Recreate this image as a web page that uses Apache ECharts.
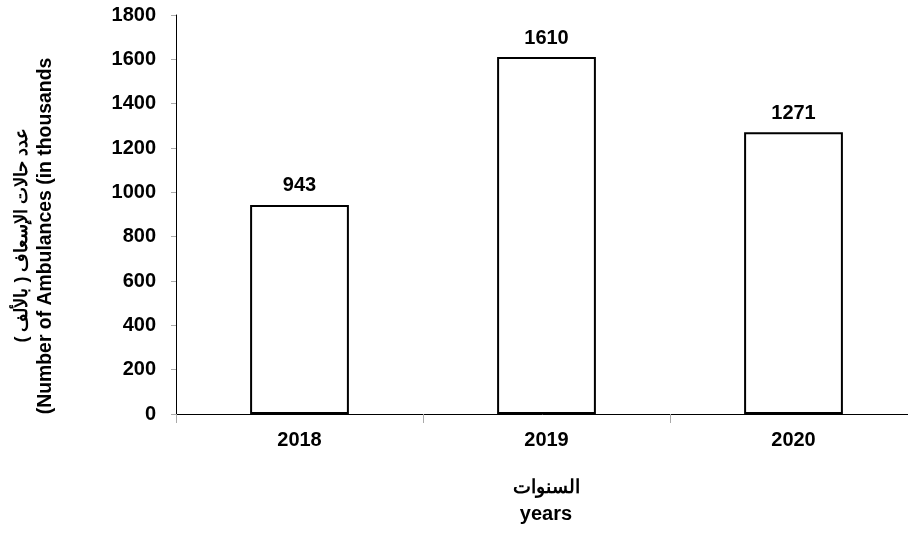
<!DOCTYPE html>
<html><head><meta charset="utf-8">
<script src="https://cdn.jsdelivr.net/npm/echarts@6/dist/echarts.min.js"></script>
<style>html,body{margin:0;padding:0;background:#fff}#c{width:908px;height:533px}</style>
</head><body><div id="c"></div>
<script>
const categories = ['2018', '2019', '2020'];
const values = [943, 1610, 1271];
const yTicks = [0, 200, 400, 600, 800, 1000, 1200, 1400, 1600, 1800];
const yNameAr = 'عدد حالات الإسعاف ( بالألف )';
const yNameEn = '(Number of Ambulances (in thousands';
const xNameAr = 'السنوات';
const xNameEn = 'years';

const font = '"Liberation Sans", Arial, sans-serif';
const chart = echarts.init(document.getElementById('c'), null, {renderer: 'canvas'});
const nameStyle = (t, size) => ({text: t, fontFamily: font, fontWeight: 'bold', fontSize: size, fill: '#000', align: 'center', verticalAlign: 'middle'});
chart.setOption({
  animation: false,
  grid: {left: 176, right: -9, top: 15, bottom: 119, containLabel: false, outerBoundsMode: 'none'},
  xAxis: {
    type: 'category', data: categories,
    axisLine: {lineStyle: {color: '#000', width: 1}},
    axisTick: {show: true, length: 9, lineStyle: {color: '#aaa'}},
    axisLabel: {color: '#000', fontWeight: 'bold', fontSize: 20, fontFamily: font, margin: 16}
  },
  yAxis: {
    type: 'value', min: yTicks[0], max: yTicks[yTicks.length - 1], interval: 200,
    splitLine: {show: false},
    axisLine: {show: true, lineStyle: {color: '#000', width: 1}},
    axisTick: {show: true, length: 5, lineStyle: {color: '#aaa'}},
    axisLabel: {color: '#000', fontWeight: 'bold', fontSize: 20, fontFamily: font, margin: 20, formatter: v => String(v)}
  },
  graphic: [
    {type: 'text', x: 22, y: 235, rotation: Math.PI / 2, style: nameStyle(yNameAr, 18)},
    {type: 'text', x: 46, y: 236, rotation: Math.PI / 2, style: nameStyle(yNameEn, 19.4)},
    {type: 'text', x: 546, y: 488, style: nameStyle(xNameAr, 19)},
    {type: 'text', x: 546, y: 514, style: nameStyle(xNameEn, 20)}
  ],
  series: [{
    type: 'bar', data: values, barWidth: '40%',
    itemStyle: {color: '#fff', borderColor: '#000', borderWidth: 2},
    label: {show: true, position: 'top', distance: 9, color: '#000', fontWeight: 'bold', fontSize: 20, fontFamily: font}
  }]
});
</script></body></html>
